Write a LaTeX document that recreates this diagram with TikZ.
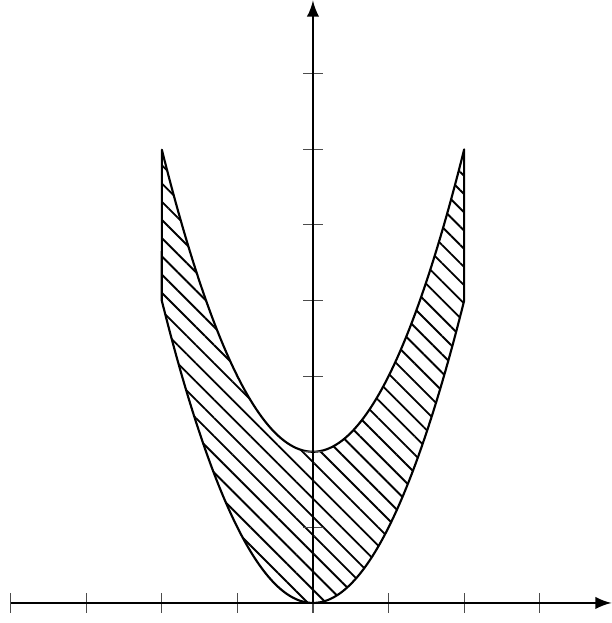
\documentclass[tikz,border=0pt]{standalone}
\usetikzlibrary{arrows, patterns.meta}

\begin{document}
\begin{tikzpicture}[x=1cm, y=1cm,
		>=latex,   %Pfeilspitzen
		line join=round]
		%Bildbereich festlegen
		\useasboundingbox (-4.14,-0.265) rectangle (3.955,7.976);
		%Flaeche zwischen den Parabeln schraffieren
		\draw[thick, pattern={Lines[angle=-45,distance=4.85pt,line width=0.7pt]}]
			plot[domain=-2:2,samples=100] (\x,{\x*\x})
			-- (2,6)
			-- plot[domain=2:-2,samples=100] (\x,{\x*\x+2})
			-- cycle;
		% Achsen markieren
		\foreach \x in {-4,-3,...,3} \draw[gray!60!black] (\x,-.13) -- (\x,.13);
		\foreach \y in {1,2,...,7} \draw[gray!60!black] (-.13,\y) -- (.13,\y);
		% Achsen zeichnen
		\draw[->,line width=1.1pt] (-4,0) -- (3.95,0);
		\draw[->,line width=1.1pt] (0,0) -- (0,7.97);
	\end{tikzpicture}
\end{document}
